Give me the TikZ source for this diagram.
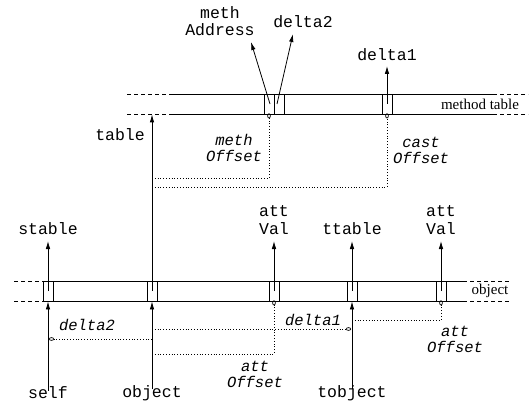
\documentclass[tikz,border=0pt]{standalone}
\usepackage{fontspec}
\setmainfont{Liberation Serif}
\setmonofont{Liberation Mono}
\usetikzlibrary{arrows.meta}

\begin{document}
\begin{tikzpicture}[x=1pt,y=-1pt,
  band/.style={line width=0.8pt},
  bandend/.style={line width=0.8pt, dash pattern=on 4pt off 3pt},
  slot/.style={draw, line width=0.8pt, minimum width=10pt, minimum height=20pt, inner sep=0pt},
  ptr/.style={line width=0.8pt, -{Latex[length=8pt,width=4.5pt]}},
  offs/.style={line width=0.7pt, dash pattern=on 0.8pt off 2pt,
    -{Circle[open,length=5pt,width=3.5pt,line width=0.7pt]}},
  code/.style={font=\ttfamily\fontsize{16.5}{17.5}\selectfont, inner sep=0pt, align=center},
  icode/.style={font=\ttfamily\itshape\fontsize{15.5}{16}\selectfont, inner sep=0pt, align=center},
  tag/.style={font=\rmfamily\fontsize{15}{16}\selectfont, inner sep=0pt}]

\useasboundingbox (0,0) rectangle (530,401);

% ---- method table band ----
\foreach \y in {94,114} {
  \draw[bandend] (127,\y) -- (173,\y);
  \draw[band] (173,\y) -- (493,\y);
  \draw[bandend] (493,\y) -- (528,\y);
}
\node[tag] (mtag) at (480,104) {method table};
\node[slot] (mAddr) at (269,104) {};
\node[slot] (mDelta) at (279,104) {};
\node[slot] (mCast) at (387,104) {};

% ---- object band ----
\foreach \y in {281,301} {
  \draw[bandend] (14,\y) -- (43,\y);
  \draw[band] (43,\y) -- (463,\y);
  \draw[bandend] (463,\y) -- (509,\y);
}
\node[tag] (otag) at (490,291) {object};
\node[slot] (oSelf) at (48,291) {};
\node[slot] (oObj) at (152,291) {};
\node[slot] (oAtt) at (274,291) {};
\node[slot] (oTobj) at (352,291) {};
\node[slot] (oAtt2) at (441,291) {};

% ---- labels above the method table ----
\node[code] (lAddr) at (220,21) {meth\\Address};
\node[code] (lDelta2) at (303,22) {delta2};
\node[code] (lDelta1) at (387,55) {delta1};
\node[code, anchor=east] (lTable) at (145,135) {table};

\coordinate (tAddr) at (251,42);
\coordinate (tDelta2) at (293,34);
\coordinate (tDelta1) at (387,66);

\draw[ptr] ([xshift=1pt]mAddr.center) -- (tAddr);
\draw[ptr] ([xshift=-2pt]mDelta.center) -- (tDelta2);
\draw[ptr] (mCast.center) -- (tDelta1);
\draw[ptr] (oObj.center) -- (mAddr.south -| oObj);

% ---- offsets into the method table ----
\node[icode] (lMeth) at (234,148) {meth\\Offset};
\node[icode] (lCast) at (421,150) {cast\\Offset};
\coordinate (jMeth) at (269,178);
\coordinate (jCast) at (387,187);
\draw[offs] (jMeth -| oObj) -- (jMeth) -- ([yshift=1pt]mAddr.south);
\draw[offs] (jCast -| oObj) -- (jCast) -- ([yshift=1pt]mCast.south);

% ---- labels above the object ----
\node[code] (lStable) at (48,229) {stable};
\node[code] (lVal) at (274,220) {att\\Val};
\node[code] (lTtable) at (352,229) {ttable};
\node[code] (lVal2) at (441,220) {att\\Val};

\coordinate (tStable) at (48,241);
\coordinate (tVal) at (274,241);
\coordinate (tTtable) at (352,241);
\coordinate (tVal2) at (441,241);

\draw[ptr] (oSelf.center) -- (tStable);
\draw[ptr] (oAtt.center) -- (tVal);
\draw[ptr] (oTobj.center) -- (tTtable);
\draw[ptr] (oAtt2.center) -- (tVal2);

% ---- references into the object ----
\node[code] (lSelf) at (48,393) {self};
\node[code] (lObj) at (152,393) {object};
\node[code] (lTobj) at (352,393) {tobject};

\draw[ptr] ([yshift=-4pt]lSelf.north) -- (oSelf.south);
\draw[ptr] ([yshift=-4pt]lObj.north) -- (oObj.south);
\draw[ptr] ([yshift=-4pt]lTobj.north) -- (oTobj.south);

% ---- offsets below the object ----
\node[icode] (lD2) at (87,325) {delta2};
\node[icode] (lD1) at (313,320) {delta1};
\node[icode] (lAttOff) at (255,374) {att\\Offset};
\node[icode] (lAttOff2) at (455,339) {att\\Offset};

\coordinate (jD2) at (49,339);
\coordinate (jD1) at (351,329);
\coordinate (jAtt) at (274,354);
\coordinate (jAtt2) at (441,320);

\draw[offs] (jD2 -| oObj) -- (jD2);
\draw[offs] (jD1 -| oObj) -- (jD1);
\draw[offs] (jAtt -| oObj) -- (jAtt) -- ([yshift=1pt]oAtt.south);
\draw[offs] (jAtt2 -| oTobj) -- (jAtt2) -- ([yshift=1pt]oAtt2.south);

\end{tikzpicture}
\end{document}
